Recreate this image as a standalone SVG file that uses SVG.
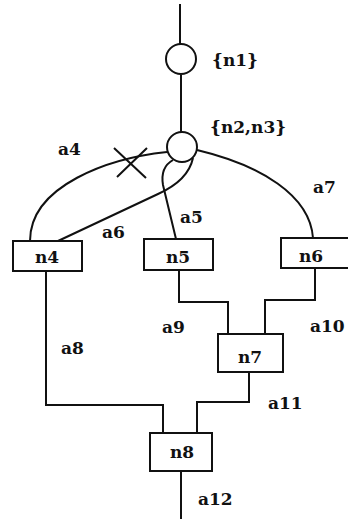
<svg xmlns="http://www.w3.org/2000/svg" width="348" height="519" viewBox="0 0 348 519">
  <style>
    .ln { fill: none; stroke: #111; stroke-width: 2; stroke-linejoin: miter; }
    .box { fill: #fff; stroke: #111; stroke-width: 2; }
    .node { fill: #fff; stroke: #111; stroke-width: 2; }
    .t { font-family: "DejaVu Serif", "Liberation Serif", serif; font-weight: bold; font-size: 17px; fill: #111; }
    .c { text-anchor: middle; }
  </style>
  <rect width="348" height="519" fill="#fff"/>

  <g id="connectors">
    <!-- entry line and link between the two state circles -->
    <path class="ln" d="M180,4 L180,44"/>
    <path class="ln" d="M181,75 L181,132"/>
    <!-- a4 with cut mark -->
    <path id="a4" class="ln" d="M167,152 C110,158 30,185 30,241"/>
    <path class="ln" d="M114,148 L146,178 M117,177 L147,148" stroke-width="1.6"/>
    <!-- a6 -->
    <path id="a6" class="ln" d="M58,241 L158,194 C178,185 190,172 193,158"/>
    <!-- a5 -->
    <path id="a5" class="ln" d="M176,239 L163,185 C161,173 164,165 173,160"/>
    <!-- a7 -->
    <path id="a7" class="ln" d="M197,150 C260,165 310,195 313,238"/>
    <!-- a8 -->
    <path id="a8" class="ln" d="M46,271 L46,405 L163,405 L163,433"/>
    <!-- a9 -->
    <path id="a9" class="ln" d="M179,270 L179,302 L228,302 L228,334"/>
    <!-- a10 -->
    <path id="a10" class="ln" d="M315,268 L315,300 L265,300 L265,334"/>
    <!-- a11 -->
    <path id="a11" class="ln" d="M249,372 L249,402 L197,402 L197,433"/>
    <!-- a12 -->
    <path id="a12" class="ln" d="M181,471 L181,519"/>
  </g>

  <g id="n1">
    <circle class="node" cx="181" cy="59" r="15"/>
    <text class="t" x="212" y="66">{n1}</text>
  </g>
  <g id="n2n3">
    <circle class="node" cx="182" cy="147" r="15"/>
    <text class="t" x="210" y="133">{n2,n3}</text>
  </g>
  <g id="n4">
    <rect class="box" x="13" y="241" width="69" height="30"/>
    <text class="t c" x="47" y="263">n4</text>
  </g>
  <g id="n5">
    <rect class="box" x="144" y="239" width="69" height="31"/>
    <text class="t c" x="178" y="263">n5</text>
  </g>
  <g id="n6">
    <rect class="box" x="281" y="238" width="72" height="30"/>
    <text class="t c" x="311" y="262">n6</text>
  </g>
  <g id="n7">
    <rect class="box" x="218" y="334" width="65" height="38"/>
    <text class="t c" x="250" y="363">n7</text>
  </g>
  <g id="n8">
    <rect class="box" x="150" y="433" width="62" height="38"/>
    <text class="t c" x="182" y="458">n8</text>
  </g>

  <g id="labels">
    <text class="t" x="58" y="155">a4</text>
    <text class="t" x="180" y="223">a5</text>
    <text class="t" x="102" y="238">a6</text>
    <text class="t" x="313" y="193">a7</text>
    <text class="t" x="61" y="354">a8</text>
    <text class="t" x="162" y="333">a9</text>
    <text class="t" x="310" y="332">a10</text>
    <text class="t" x="268" y="409">a11</text>
    <text class="t" x="198" y="505">a12</text>
  </g>
</svg>
